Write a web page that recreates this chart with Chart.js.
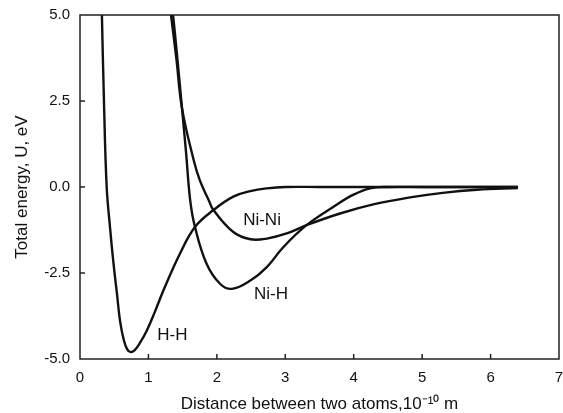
<!DOCTYPE html>
<html><head><meta charset="utf-8">
<script src="https://cdn.jsdelivr.net/npm/chart.js@4.4.0/dist/chart.umd.min.js"></script>
<style>html,body{margin:0;padding:0;background:#fff}canvas{display:block}</style>
</head><body>
<canvas id="c" width="563" height="413"></canvas>
<script>
// ---- data ----
const hhX = [0.32, 0.35, 0.39, 0.44, 0.49, 0.54, 0.585, 0.64, 0.69, 0.74, 0.80, 0.88, 0.975, 1.1, 1.22, 1.46, 1.68, 1.95, 2.24, 2.49, 2.73, 3.0, 3.5, 6.4];
const hhY = [5.0, 2.5, 0.0, -1.2, -2.23, -3.1, -3.89, -4.45, -4.72, -4.8, -4.74, -4.52, -4.18, -3.6, -3.0, -1.94, -1.16, -0.67, -0.28, -0.12, -0.04, 0.0, 0.0, 0.0];

const nihX = [1.36, 1.42, 1.49, 1.55, 1.61, 1.68, 1.85, 2.05, 2.22, 2.49, 2.73, 2.97, 3.31, 3.70, 3.99, 4.24, 4.5, 5.0, 6.4];
const nihY = [5.0, 3.8, 2.3, 1.0, -0.38, -1.16, -2.23, -2.82, -2.96, -2.72, -2.33, -1.75, -1.11, -0.58, -0.23, -0.04, 0.0, 0.0, 0.0];

const ninX = [1.33, 1.41, 1.49, 1.66, 1.75, 1.88, 1.95, 2.24, 2.49, 2.73, 3.02, 3.31, 3.80, 4.30, 4.80, 5.30, 5.80, 6.4];
const ninY = [5.0, 3.7, 2.3, 0.79, 0.2, -0.38, -0.67, -1.31, -1.52, -1.50, -1.35, -1.11, -0.77, -0.50, -0.31, -0.17, -0.08, -0.03];

const xTickLabels = ['0', '1', '2', '3', '4', '5', '6', '7'];
const yTickValues = [-5, -2.5, 0, 2.5, 5];
const yTickLabels = ['-5.0', '-2.5', '0.0', '2.5', '5.0'];

const curveNames = ['Ni-Ni', 'Ni-H', 'H-H'];
const curveLabelX = [2.66, 2.79, 1.35];
const curveLabelY = [-0.96, -3.13, -4.3];

const xTitle = 'Distance between two atoms,10\u207B\u00B9\u2070 m';
const yTitle = 'Total energy, U, eV';

// ---- build ----
function pts(xs, ys) { return xs.map((x, i) => ({x: x, y: ys[i]})); }
const FONT = '"Liberation Sans", Arial, Helvetica, sans-serif';

const frameAndLabels = {
  id: 'frameAndLabels',
  afterDatasetsDraw(chart) {
    const {ctx, chartArea: a, scales: {x, y}} = chart;
    ctx.save();
    ctx.strokeStyle = '#222';
    ctx.lineWidth = 1.5;
    ctx.strokeRect(a.left, a.top, a.right - a.left, a.bottom - a.top);
    ctx.beginPath();
    x.ticks.forEach(t => {
      if (t.value > x.min && t.value < x.max) {
        const px = x.getPixelForValue(t.value);
        ctx.moveTo(px, a.bottom); ctx.lineTo(px, a.bottom - 5);
      }
    });
    y.ticks.forEach(t => {
      if (t.value > y.min && t.value < y.max) {
        const py = y.getPixelForValue(t.value);
        ctx.moveTo(a.left, py); ctx.lineTo(a.left + 5, py);
      }
    });
    ctx.stroke();
    ctx.fillStyle = '#111';
    ctx.font = '17px ' + FONT;
    ctx.textAlign = 'center';
    ctx.textBaseline = 'middle';
    curveNames.forEach((n, i) => {
      ctx.fillText(n, x.getPixelForValue(curveLabelX[i]), y.getPixelForValue(curveLabelY[i]));
    });
    ctx.restore();
  }
};

const lineStyle = {showLine: true, borderColor: '#111', borderWidth: 2.4, pointRadius: 0, fill: false, tension: 0.4};

new Chart(document.getElementById('c'), {
  type: 'scatter',
  data: {
    datasets: [
      Object.assign({label: 'H-H', data: pts(hhX, hhY)}, lineStyle),
      Object.assign({label: 'Ni-H', data: pts(nihX, nihY)}, lineStyle),
      Object.assign({label: 'Ni-Ni', data: pts(ninX, ninY)}, lineStyle)
    ]
  },
  options: {
    responsive: false,
    animation: false,
    layout: {padding: {top: 15, right: 4, left: 0, bottom: 0}},
    plugins: {legend: {display: false}, tooltip: {enabled: false}},
    scales: {
      x: {
        type: 'linear', min: 0, max: 7,
        afterFit: s => { s.height = 54; s.paddingRight = 0; s.paddingLeft = 0; },
        grid: {display: false, drawTicks: false},
        border: {display: false},
        ticks: {
          stepSize: 1, padding: 10, color: '#111', maxRotation: 0,
          font: {family: FONT, size: 15},
          callback: v => xTickLabels[Math.round(v)]
        },
        title: {display: true, text: xTitle, color: '#111', padding: {top: 0, bottom: 0},
                font: {family: FONT, size: 17, lineHeight: 1}}
      },
      y: {
        type: 'linear', min: -5, max: 5,
        afterFit: s => { s.width = 80; s.paddingTop = 0; s.paddingBottom = 0; },
        afterBuildTicks: s => { s.ticks = yTickValues.map(v => ({value: v})); },
        grid: {display: false, drawTicks: false},
        border: {display: false},
        ticks: {
          padding: 10, color: '#111',
          font: {family: FONT, size: 15},
          callback: v => yTickLabels[yTickValues.indexOf(v)]
        },
        title: {display: true, text: yTitle, color: '#111', padding: {top: 14, bottom: 0},
                font: {family: FONT, size: 17, lineHeight: 1}}
      }
    }
  },
  plugins: [frameAndLabels]
});
</script>
</body></html>
